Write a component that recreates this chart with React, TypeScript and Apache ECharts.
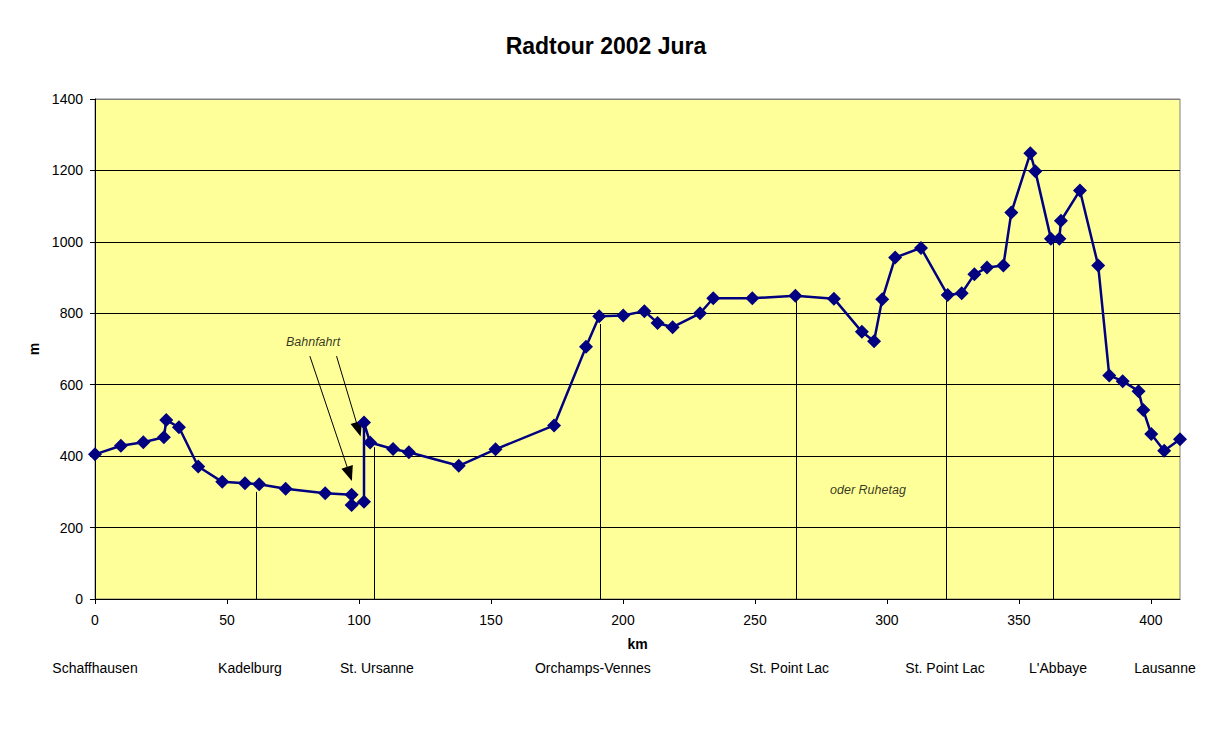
import { useEffect, useRef } from "react";
import * as echarts from "echarts";

const km = [
  0, 9.8, 18.3, 26.1, 27, 31.8, 39.1, 48.2, 56.8, 62.2,
  72.2, 87.2, 97.2, 97.2, 101.9, 101.9, 104.2, 112.9, 118.9, 137.8,
  151.7, 173.9, 186, 191, 200.1, 208.1, 213.1, 218.8, 229.2, 234.2,
  249, 265.3, 279.9, 290.5, 295.1, 298.2, 303.1, 312.9, 323, 328.3,
  333.1, 337.9, 344.1, 347.1, 354.3, 356.2, 362.1, 365.3, 365.9, 373.1,
  380, 384.2, 389.3, 395.3, 397.1, 400.1, 405, 411,
];
const elevation = [
  405, 429, 439, 453, 501, 481, 371, 328, 324, 321,
  309, 296, 292, 263, 272, 494, 438, 420, 411, 373,
  419, 486, 706, 792, 794, 806, 773, 761, 800, 842,
  842, 849, 841, 748, 722, 839, 956, 983, 851, 856,
  909, 928, 934, 1082, 1248, 1198, 1009, 1009, 1059, 1144,
  934, 626, 610, 582, 529, 462, 415, 447,
];

const xTicks = [0, 50, 100, 150, 200, 250, 300, 350, 400];

// overnight stops: label position (km) and name
const townKm = [0, 58.7, 106.8, 188.6, 263, 322, 364.8, 405.3];
const townNames = [
  "Schaffhausen", "Kadelburg", "St. Ursanne", "Orchamps-Vennes",
  "St. Point Lac", "St. Point Lac", "L'Abbaye", "Lausanne",
];

// vertical drop lines: [km, top in m]
const dropLines: Array<[number, number]> = [
  [61, 300], [105.8, 425], [191.4, 770], [265.5, 845], [322.6, 835], [362.8, 1000],
];

// arrows for "Bahnfahrt": [fromKm, fromM, toKm, toM]
const arrows: Array<[number, number, number, number]> = [
  [81.4, 680, 96.4, 350],
  [91.5, 680, 99.8, 475],
];

const notes: Array<[number, number, string]> = [
  [82.6, 720, "Bahnfahrt"],
  [292.8, 305, "oder Ruhetag"],
];

const X_MAX = 411;
const FONT = "'Liberation Sans', Arial, sans-serif";

export default function App() {
  const ref = useRef<HTMLDivElement | null>(null);

  useEffect(() => {
    document.body.style.margin = "0";
    const el = ref.current;
    if (!el) return;
    const chart = echarts.init(el, null, { renderer: "svg" });

    const option: echarts.EChartsOption = {
      animation: false,
      backgroundColor: "#ffffff",
      textStyle: { fontFamily: FONT },
      title: {
        text: "Radtour 2002 Jura",
        left: "center",
        top: 29,
        textStyle: { fontFamily: FONT, fontSize: 23, fontWeight: "bold", color: "#000" },
      },
      grid: {
        left: 95,
        right: 32,
        top: 99,
        bottom: 156,
        show: true,
        backgroundColor: "#FFFF99",
        borderColor: "#808080",
        borderWidth: 1,
      },
      xAxis: [
        {
          type: "value",
          min: 0,
          max: X_MAX,
          interval: 50,
          name: "km",
          nameLocation: "middle",
          nameGap: 38,
          nameTextStyle: { fontFamily: FONT, fontSize: 14, fontWeight: "bold", color: "#000" },
          axisLine: { lineStyle: { color: "#000", width: 1 } },
          axisTick: { show: true, length: 5, customValues: xTicks, lineStyle: { color: "#000" } },
          axisLabel: {
            margin: 14,
            customValues: xTicks,
            fontFamily: FONT,
            fontSize: 14,
            color: "#000",
            formatter: (v: number) => String(v),
          },
          splitLine: { show: false },
        },
        {
          type: "value",
          position: "bottom",
          min: 0,
          max: X_MAX,
          axisLine: { show: false },
          axisTick: { show: false },
          splitLine: { show: false },
          axisLabel: {
            customValues: townKm,
            margin: 62,
            fontFamily: FONT,
            fontSize: 14,
            color: "#000",
            formatter: (v: number) => {
              const i = townKm.indexOf(v);
              return i >= 0 ? townNames[i] : "";
            },
          },
        },
      ],
      yAxis: {
        type: "value",
        min: 0,
        max: 1400,
        interval: 200,
        name: "m",
        nameLocation: "middle",
        nameGap: 54,
        nameTextStyle: { fontFamily: FONT, fontSize: 14, fontWeight: "bold", color: "#000" },
        axisLine: { show: true, lineStyle: { color: "#000", width: 1 } },
        axisTick: { show: true, length: 5, lineStyle: { color: "#000" } },
        axisLabel: {
          margin: 12,
          fontFamily: FONT,
          fontSize: 14,
          color: "#000",
          formatter: (v: number) => String(v),
        },
        splitLine: {
          show: true,
          lineStyle: {
            color: ["#000", "#000", "#000", "#000", "#000", "#000", "#000", "#808080"],
            width: 1,
          },
        },
      },
      series: [
        {
          type: "line",
          name: "drops",
          data: [],
          silent: true,
          markLine: {
            silent: true,
            symbol: ["none", "none"],
            label: { show: false },
            lineStyle: { color: "#000", width: 1, type: "solid" },
            data: dropLines.map(([x, top]) => [
              { coord: [x, top] },
              { coord: [x, 0] },
            ]),
          },
        },
        {
          type: "line",
          name: "Höhe",
          data: km.map((x, i) => [x, elevation[i]]),
          symbol: "diamond",
          symbolSize: 14,
          lineStyle: { color: "#000080", width: 2.5 },
          itemStyle: { color: "#000080" },
          z: 5,
        },
        {
          type: "line",
          name: "arrows",
          data: [],
          silent: true,
          markLine: {
            silent: true,
            symbol: ["none", "triangle"],
            symbolSize: [12, 15],
            label: { show: false },
            lineStyle: { color: "#000", width: 1, type: "solid" },
            itemStyle: { color: "#000" },
            data: arrows.map(([x1, y1, x2, y2]) => [
              { coord: [x1, y1] },
              { coord: [x2, y2] },
            ]),
          },
          z: 6,
        },
        {
          type: "scatter",
          name: "notes",
          data: notes,
          symbolSize: 0,
          silent: true,
          label: {
            show: true,
            position: "inside",
            formatter: (p: any) => p.value[2],
            fontFamily: FONT,
            fontSize: 12.5,
            fontStyle: "italic",
            color: "#000",
          },
        },
      ],
    };

    chart.setOption(option);
    return () => chart.dispose();
  }, []);

  return <div ref={ref} style={{ width: 1212, height: 755 }} />;
}
